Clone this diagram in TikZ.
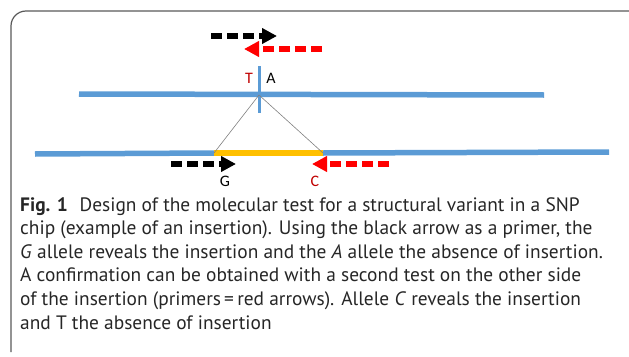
\documentclass[tikz,border=0pt]{standalone}
\usepackage{fontspec}
\setmainfont{PT Sans}
\newfontfamily\labelfont{Carlito}
\usetikzlibrary{arrows.meta}
\definecolor{dnablue}{HTML}{5B9BD5}
\definecolor{insorange}{HTML}{FFC000}
\definecolor{primred}{HTML}{FF0000}
\definecolor{allelered}{HTML}{C00000}
\definecolor{framegray}{HTML}{595959}
\begin{document}
\begin{tikzpicture}[x=1pt,y=-1pt,dna/.style={draw=dnablue,line width=5.5pt},insert/.style={draw=insorange,line width=5.5pt},probe/.style={draw=dnablue,line width=3pt},guide/.style={draw=gray,line width=0.6pt},primer/.style={line width=5.5pt,dash pattern=on 11pt off 5pt,-{Triangle[length=15pt,width=15pt]}},allele/.style={font=\labelfont\fontsize{16}{18}\selectfont,inner sep=0pt}]
\useasboundingbox (0,0) rectangle (629,356);
% frame
\draw[framegray,line width=1.2pt,rounded corners=15pt] (11,352) -- (11,11) -- (629,11);
% reference sequence
\coordinate (refL) at (79,94);
\coordinate (refR) at (544,95);
\coordinate (snpT) at (259,66);
\coordinate (snpB) at (259,113);
\coordinate (snp) at (259,95);
\draw[dna] (refL) -- (refR);
\draw[probe] (snpT) -- (snpB);
% sequence with the insertion
\coordinate (insL0) at (35,154);
\coordinate (insA) at (214,153);
\coordinate (insB) at (323,153);
\coordinate (insR0) at (609,152);
\draw[dna] (insL0) -- (insA);
\draw[dna] (insB) -- (insR0);
\draw[insert] (insA) -- (insB);
\draw[guide] (snp) -- (insA);
\draw[guide] (snp) -- (insB);
% primers
\coordinate (fwdA) at (211,36);
\coordinate (fwdB) at (277,36);
\coordinate (revA) at (322,49);
\coordinate (revB) at (244,49);
\coordinate (fwdC) at (171,164);
\coordinate (fwdD) at (236,164);
\coordinate (revC) at (389,164);
\coordinate (revD) at (312,164);
\draw[primer,black] (fwdA) -- (fwdB);
\draw[primer,primred] (revA) -- (revB);
\draw[primer,black] (fwdC) -- (fwdD);
\draw[primer,primred] (revC) -- (revD);
% alleles
\node[allele,text=allelered] (T) at (249,78) {T};
\node[allele] (A) at (271,78) {A};
\node[allele] (G) at (225,181) {G};
\node[allele,text=allelered] (C) at (315,181) {C};
% caption
\node[anchor=north west,align=left,inner sep=0pt,text=black!85,font=\fontsize{19.4}{23.6}\selectfont] (caption) at (20,197) {\textbf{Fig. 1}\hspace{0.6em}Design of the molecular test for a structural variant in a SNP\\chip (example of an insertion). Using the black arrow as a primer, the\\\textit{G} allele reveals the insertion and the \textit{A} allele the absence of insertion.\\A confirmation can be obtained with a second test on the other side\\of the insertion (primers\,=\,red arrows). Allele \textit{C} reveals the insertion\\and T the absence of insertion};
\end{tikzpicture}
\end{document}
